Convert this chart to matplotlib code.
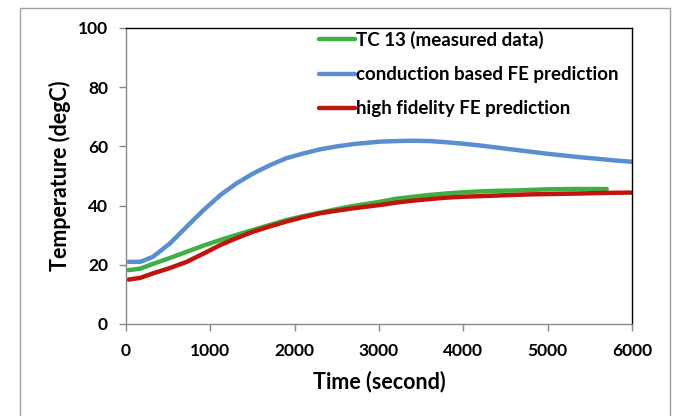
import numpy as np
import matplotlib.pyplot as plt
from matplotlib.patches import Rectangle

# values
t_meas = [30, 170, 320, 520, 720, 920, 1120, 1310, 1510, 1710, 1900, 2100, 2300, 2500,
          2700, 3010, 3200, 3410, 3600, 3800, 4000, 4200, 4400, 4600, 4800, 5000, 5300, 5700]
T_meas = [18.2, 18.7, 20.3, 22.3, 24.4, 26.5, 28.4, 30.1, 31.8, 33.5, 35.1, 36.4, 37.6,
          38.8, 39.9, 41.3, 42.3, 43.0, 43.6, 44.1, 44.5, 44.8, 45.0, 45.1, 45.3, 45.5,
          45.6, 45.6]

t_cond = [30, 170, 320, 520, 720, 920, 1120, 1310, 1510, 1710, 1900, 2100, 2300, 2500,
          2700, 3010, 3200, 3410, 3600, 3800, 4000, 4200, 4400, 4600, 4800, 5000, 5200,
          5400, 5600, 5780, 6000]
T_cond = [21.0, 21.0, 22.7, 27.2, 32.9, 38.5, 43.6, 47.5, 50.9, 53.7, 56.0, 57.6, 59.0,
          60.0, 60.8, 61.6, 61.8, 61.9, 61.8, 61.4, 60.9, 60.3, 59.6, 58.9, 58.2, 57.5,
          56.9, 56.3, 55.8, 55.3, 54.8]

t_hf = [30, 170, 320, 520, 720, 920, 1120, 1310, 1510, 1710, 1900, 2100, 2300, 2500,
        2700, 3010, 3200, 3410, 3600, 3800, 4000, 4200, 4400, 4600, 4800, 5000, 5400,
        5700, 6000]
T_hf = [15.0, 15.6, 17.1, 18.9, 21.0, 23.8, 26.7, 29.0, 31.2, 33.0, 34.6, 36.1, 37.4,
        38.3, 39.1, 40.2, 41.0, 41.7, 42.2, 42.7, 43.0, 43.2, 43.4, 43.6, 43.8, 43.9,
        44.1, 44.3, 44.4]

labels = ['TC 13 (measured data)', 'conduction based FE prediction', 'high fidelity FE prediction']
colors = ['#3cb043', '#5a8ed0', '#c0140c']

plt.rcParams['font.family'] = ['Lato', 'DejaVu Sans']

fig = plt.figure(figsize=(6.74, 4.16), dpi=100)
fig.patches.append(Rectangle((20 / 674, -0.1), 650 / 674, 1.1 - 8 / 416, transform=fig.transFigure,
                             fill=False, edgecolor='#a0a0a0', linewidth=1.0))
ax = fig.add_axes([126 / 674, 1 - 324 / 416, 506 / 674, 296 / 416])

ax.plot(t_meas, T_meas, color=colors[0], lw=3.2, label=labels[0], solid_capstyle='round')
ax.plot(t_cond, T_cond, color=colors[1], lw=3.2, label=labels[1], solid_capstyle='round')
ax.plot(t_hf, T_hf, color=colors[2], lw=3.2, label=labels[2], solid_capstyle='round')

ax.set_xlim(0, 6000)
ax.set_ylim(0, 100)
ax.set_xticks(np.arange(0, 6001, 1000))
ax.set_yticks(np.arange(0, 101, 20))
for s in ['left', 'bottom']:
    ax.spines[s].set_color('#888888')
    ax.spines[s].set_linewidth(1.0)
for s in ['top', 'right']:
    ax.spines[s].set_color('black')
    ax.spines[s].set_linewidth(1.0)
ax.tick_params(direction='out', length=5, width=1, color='#888888', labelsize=12.5)
ax.tick_params(axis='x', pad=9)
ax.tick_params(axis='y', pad=8)
for lab in ax.get_xticklabels() + ax.get_yticklabels():
    lab.set_fontweight('bold')

ax.set_xlabel('Time (second)', fontsize=15.5, fontweight='bold', labelpad=8)
ax.set_ylabel('Temperature (degC)', fontsize=15.5, fontweight='bold', labelpad=5)

leg = ax.legend(loc='upper left', bbox_to_anchor=(0.356, 1.035), frameon=False,
                fontsize=13.5, handlelength=1.9, handletextpad=0.05, labelspacing=0.92,
                borderaxespad=0.3)
for txt in leg.get_texts():
    txt.set_fontweight('bold')

fig.savefig('out.png', dpi=100)
